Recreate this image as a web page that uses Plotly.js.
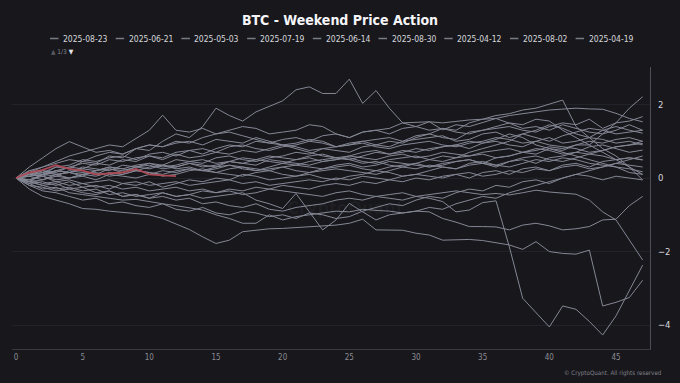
<!DOCTYPE html>
<html>
<head>
<meta charset="utf-8">
<script src="https://cdn.plot.ly/plotly-3.0.1.min.js"></script>
<style>html,body{margin:0;padding:0;background:#17171c;}#chart{width:680px;height:383px;}</style>
</head>
<body>
<div id="chart"></div>
<script>
// hours since weekend start
const hours = [0,1,2,3,4,5,6,7,8,9,10,11,12,13,14,15,16,17,18,19,20,21,22,23,24,25,26,27,28,29,30,31,32,33,34,35,36,37,38,39,40,41,42,43,44,45,46,47];

const legendDates = ["2025-08-23","2025-06-21","2025-05-03","2025-07-19","2025-06-14","2025-08-30","2025-04-12","2025-08-02","2025-04-19"];

const s_0823 = [0,0.15,0.1,0.3,0.25,0.45,0.4,0.6,0.55,0.8,0.75,1.0,1.2,1.1,1.4,1.9,1.7,1.55,1.8,1.95,2.1,2.4,2.48,2.3,2.3,2.69,2.03,2.38,1.9,1.5,1.52,1.53,1.31,1.45,1.4,1.5,1.62,1.49,1.35,1.4,1.3,1.45,1.35,1.25,1.2,1.3,1.45,1.3];
const s_0621 = [0,-0.1,0.1,0.2,0.15,0.3,0.25,0.2,0.35,0.3,0.4,0.35,0.5,0.45,0.4,0.55,0.6,0.5,0.45,0.55,0.6,0.7,0.65,0.8,0.75,0.7,0.85,0.9,1.0,0.95,1.1,1.2,1.35,1.3,1.5,1.6,1.7,1.75,1.85,1.9,2.0,2.12,1.4,1.1,0.8,0.6,0.3,-0.05];
const s_0503 = [0,0.2,0.3,0.45,0.6,0.7,0.8,0.9,0.85,1.08,1.3,1.71,1.3,1.25,1.35,1.2,1.3,1.4,1.35,1.2,1.25,1.3,1.45,1.4,1.2,1.1,1.25,1.3,1.35,1.5,1.4,1.3,1.35,1.25,1.2,1.3,1.35,1.4,1.3,1.25,1.4,1.5,1.45,1.6,1.35,1.5,1.55,1.67];
const s_0719 = [0,0.3,0.55,0.8,0.99,0.84,0.7,0.75,0.65,0.8,0.9,0.85,0.95,1.0,0.9,1.05,1.0,0.95,1.1,1.0,0.9,0.95,1.05,1.0,0.85,0.9,0.95,0.85,0.8,0.9,0.95,1.0,0.9,0.85,0.95,1.0,1.1,1.05,0.95,1.0,0.9,0.85,0.8,0.7,0.75,0.85,0.9,0.94];
const s_0614 = [0,0.1,0.05,0.2,0.3,0.25,0.4,0.35,0.5,0.45,0.6,0.55,0.7,0.75,0.65,0.8,0.9,0.85,1.0,0.95,1.05,1.1,1.0,1.15,1.2,1.1,1.25,1.3,1.2,1.35,1.4,1.53,1.5,1.55,1.58,1.6,1.62,1.7,1.76,1.8,1.85,1.88,1.9,1.88,1.87,1.76,1.62,1.53];
const s_0830 = [0,-0.05,0.1,0.05,0.2,0.15,0.1,0.25,0.2,0.3,0.25,0.35,0.3,0.4,0.3,0.35,0.45,0.4,0.5,0.45,0.4,0.5,0.55,0.45,0.5,0.6,0.55,0.5,0.6,0.65,0.55,0.6,0.7,0.65,0.6,0.7,0.75,0.8,0.7,0.75,0.85,0.8,0.9,0.9,1.2,1.5,1.9,2.21];
const s_0412 = [0,0.1,0.2,0.15,0.3,0.4,0.35,0.5,0.45,0.55,0.6,0.5,0.65,0.55,0.6,0.7,0.65,0.75,0.7,0.8,0.9,0.85,0.75,0.8,0.85,0.95,1.0,0.9,0.85,1.0,1.05,1.1,1.15,1.0,1.05,1.2,1.25,1.1,1.2,1.3,1.45,1.35,1.2,1.1,1.3,1.4,1.3,1.22];
const s_0802 = [0,0.05,-0.05,0.1,0.15,0.05,0.2,0.25,0.15,0.3,0.35,0.25,0.3,0.4,0.35,0.3,0.45,0.4,0.35,0.5,0.45,0.4,0.35,0.45,0.5,0.55,0.45,0.4,0.5,0.55,0.6,0.5,0.45,0.55,0.6,0.65,0.55,0.6,0.7,0.8,0.75,0.65,0.7,0.85,0.9,0.8,0.7,0.76];
const s_0419 = [0,-0.1,-0.05,0.05,0.0,0.1,0.05,0.15,0.1,0.2,0.15,0.1,0.2,0.25,0.2,0.15,0.25,0.3,0.25,0.2,0.3,0.35,0.3,0.25,0.35,0.4,0.3,0.35,0.45,0.4,0.35,0.3,0.4,0.45,0.5,0.4,0.35,0.45,0.55,0.6,0.5,0.45,0.55,0.65,0.6,0.5,0.55,0.49];
const s_0405 = [0,0.1,0.05,-0.05,0.0,0.1,0.15,0.05,0.1,0.2,0.15,0.05,0.1,0.2,0.25,0.15,0.1,0.05,0.15,0.2,0.1,0.05,0.15,0.2,0.25,0.2,0.15,0.1,0.2,0.3,0.25,0.35,0.3,0.25,0.4,0.45,0.35,0.3,0.4,0.5,0.45,0.55,0.5,0.4,0.35,0.3,0.25,0.17];
const s_0426 = [0,-0.15,-0.1,-0.2,-0.1,-0.25,-0.2,-0.3,-0.15,-0.2,-0.1,-0.25,-0.15,-0.05,-0.1,0.0,-0.05,0.1,0.05,-0.05,0.0,0.05,0.1,0.0,-0.05,0.05,0.1,0.2,0.15,0.05,0.1,0.2,0.3,0.25,0.35,0.4,0.3,0.45,0.5,0.4,0.55,0.6,0.7,0.65,0.75,0.85,0.9,1.0];
const s_0510 = [0,0.2,0.15,0.3,0.35,0.5,0.45,0.55,0.6,0.5,0.65,0.7,0.6,0.75,0.8,0.7,0.85,0.9,0.8,0.75,0.85,0.9,1.0,0.95,0.85,0.9,1.0,1.05,1.1,1.0,1.15,1.2,1.1,1.05,1.25,1.3,1.4,1.5,1.45,1.6,1.55,1.3,1.1,0.9,0.7,0.5,0.3,0.1];
const s_0517 = [0,0.05,0.15,0.1,0.0,0.05,-0.05,0.1,0.05,0.0,0.1,0.2,0.15,0.25,0.2,0.3,0.35,0.25,0.2,0.3,0.4,0.35,0.45,0.5,0.55,0.5,0.6,0.7,0.65,0.75,0.7,0.8,0.85,0.9,0.8,0.95,1.0,0.9,0.85,1.0,1.1,0.95,1.0,1.1,1.05,0.95,1.0,0.9];
const s_0524 = [0,-0.2,-0.25,-0.35,-0.3,-0.4,-0.45,-0.35,-0.5,-0.45,-0.55,-0.4,-0.5,-0.45,-0.35,-0.4,-0.3,-0.35,-0.25,-0.3,-0.2,-0.25,-0.3,-0.2,-0.15,-0.2,-0.1,-0.15,-0.05,-0.1,0.0,-0.05,0.05,0.1,0.0,0.15,0.2,0.1,0.25,0.3,0.2,0.35,0.4,0.3,0.45,0.5,0.55,0.5];
const s_0531 = [0,-0.1,-0.2,-0.3,-0.25,-0.35,-0.3,-0.45,-0.4,-0.5,-0.45,-0.4,-0.5,-0.45,-0.55,-0.5,-0.45,-0.4,-0.6,-0.7,-0.83,-0.42,-0.92,-1.41,-1.14,-0.69,-0.92,-1.14,-1.0,-0.95,-0.9,-0.8,-0.85,-0.7,-0.6,-0.5,-0.55,-0.4,-0.3,-0.2,-0.1,0.0,0.1,0.2,0.3,0.4,0.5,0.6];
const s_0607 = [0,-0.1,-0.2,-0.15,-0.3,-0.25,-0.4,-0.35,-0.5,-0.45,-0.55,-0.5,-0.6,-0.55,-0.7,-0.65,-0.75,-0.8,-0.7,-0.85,-0.9,-0.8,-0.75,-0.7,-0.6,-0.55,-0.6,-0.5,-0.55,-0.6,-0.5,-0.55,-0.64,-0.92,-0.87,-0.67,-0.62,-1.87,-3.27,-3.66,-4.05,-3.48,-3.57,-3.9,-4.27,-3.75,-3.05,-2.37];
const s_0628 = [0,-0.3,-0.5,-0.6,-0.7,-0.83,-0.85,-0.9,-0.93,-0.96,-1.0,-1.1,-1.25,-1.4,-1.6,-1.78,-1.69,-1.46,-1.42,-1.38,-1.37,-1.35,-1.32,-1.3,-1.28,-1.23,-1.12,-1.41,-1.41,-1.42,-1.5,-1.55,-1.69,-1.68,-1.67,-1.7,-1.76,-1.82,-1.94,-1.73,-2.0,-2.05,-2.07,-1.96,-3.48,-3.38,-3.25,-2.78];
const s_0705 = [0,-0.15,-0.3,-0.25,-0.4,-0.45,-0.5,-0.55,-0.6,-0.58,-0.65,-0.7,-0.75,-0.8,-0.87,-1.0,-1.1,-1.23,-1.23,-1.0,-1.14,-1.05,-1.0,-0.95,-0.9,-0.92,-0.85,-0.88,-0.9,-0.95,-0.9,-0.92,-1.1,-1.2,-1.32,-1.32,-1.33,-1.41,-1.28,-1.23,-1.3,-1.41,-1.38,-1.32,-1.14,-1.12,-0.75,-0.5];
const s_0712 = [0,-0.05,-0.15,-0.1,-0.2,-0.15,-0.25,-0.2,-0.3,-0.25,-0.35,-0.3,-0.25,-0.35,-0.3,-0.4,-0.35,-0.45,-0.4,-0.3,-0.35,-0.4,-0.45,-0.5,-0.4,-0.35,-0.45,-0.5,-0.45,-0.4,-0.5,-0.45,-0.4,-0.35,-0.4,-0.45,-0.42,-0.46,-0.4,-0.33,-0.38,-0.42,-0.44,-0.6,-0.92,-1.14,-1.7,-2.23];
const s_0726 = [0,-0.2,-0.35,-0.4,-0.5,-0.6,-0.55,-0.7,-0.65,-0.75,-0.8,-0.7,-0.85,-0.9,-0.8,-0.95,-1.0,-0.9,-0.95,-1.05,-1.0,-1.1,-0.95,-1.0,-1.1,-1.05,-0.9,-0.8,-0.7,-0.75,-0.6,-0.5,-0.55,-0.4,-0.3,-0.35,-0.2,-0.25,-0.1,-0.05,-0.15,0.0,0.1,0.05,-0.05,0.05,0.0,-0.05];
const s_0809 = [0,0.1,0.2,0.1,0.15,0.25,0.2,0.3,0.25,0.2,0.3,0.35,0.25,0.3,0.2,0.25,0.35,0.3,0.2,0.25,0.3,0.2,0.15,0.25,0.3,0.35,0.25,0.2,0.3,0.35,0.4,0.3,0.35,0.45,0.5,0.4,0.55,0.6,0.7,0.65,0.8,0.75,0.9,1.0,0.95,1.05,1.1,1.0];
const s_0816 = [0,-0.05,0.05,-0.1,-0.05,-0.15,-0.1,-0.05,-0.15,-0.1,-0.2,-0.15,-0.1,-0.2,-0.15,-0.1,-0.05,-0.15,-0.1,-0.2,-0.15,-0.1,-0.05,-0.1,0.0,-0.05,0.05,0.0,-0.05,0.05,0.1,0.05,0.0,0.1,0.15,0.05,0.1,0.2,0.15,0.25,0.2,0.3,0.35,0.25,0.3,0.4,0.35,0.3];
const s_0329 = [0,0.15,0.3,0.4,0.5,0.45,0.6,0.7,0.65,0.8,0.9,0.85,1.0,0.95,1.1,1.2,1.25,1.15,1.05,0.95,0.9,0.8,0.7,0.6,0.55,0.5,0.4,0.45,0.35,0.3,0.4,0.5,0.6,0.55,0.7,0.8,0.9,1.0,1.2,1.1,1.0,1.15,1.25,1.35,1.3,1.2,1.25,1.3];
const s_0322 = [0,0.05,0.1,0.2,0.15,0.1,0.2,0.3,0.25,0.35,0.4,0.3,0.35,0.45,0.5,0.4,0.45,0.55,0.5,0.6,0.55,0.5,0.6,0.65,0.55,0.6,0.7,0.75,0.65,0.7,0.8,0.75,0.85,0.9,1.0,0.95,1.05,1.2,1.1,0.9,0.8,0.7,0.6,0.5,0.4,0.3,0.15,0.1];
// current weekend (in progress)
const s_0906 = [0,0.15,0.22,0.35,0.25,0.2,0.1,0.12,0.15,0.25,0.1,0.07,0.05];

const pastSeries = [
  ["2025-08-23", s_0823], ["2025-06-21", s_0621], ["2025-05-03", s_0503],
  ["2025-07-19", s_0719], ["2025-06-14", s_0614], ["2025-08-30", s_0830],
  ["2025-04-12", s_0412], ["2025-08-02", s_0802], ["2025-04-19", s_0419],
  ["2025-04-05", s_0405], ["2025-04-26", s_0426], ["2025-05-10", s_0510],
  ["2025-05-17", s_0517], ["2025-05-24", s_0524], ["2025-05-31", s_0531],
  ["2025-06-07", s_0607], ["2025-06-28", s_0628], ["2025-07-05", s_0705],
  ["2025-07-12", s_0712], ["2025-07-26", s_0726], ["2025-08-09", s_0809],
  ["2025-08-16", s_0816], ["2025-03-29", s_0329], ["2025-03-22", s_0322]
];
const currentName = "2025-09-06";

const FONT = "'DejaVu Sans Condensed', 'Liberation Sans', sans-serif";
const GRAY = "rgb(132,135,148)";
const RED = "rgb(172,74,86)";
const BG = "rgb(23,23,28)";

const W = 680, H = 383;
const M = {l: 12, r: 30, t: 67, b: 34, pad: 0};
const PW = W - M.l - M.r, PH = H - M.t - M.b;
const px2x = px => (px - M.l) / PW;
const py2y = py => (H - M.b - py) / PH;

const traces = pastSeries.map(([name, ys]) => ({
  type: "scatter", mode: "lines", name: name,
  x: hours.slice(0, ys.length), y: ys,
  line: {color: GRAY, width: 1},
  showlegend: false
}));
traces.push({
  type: "scatter", mode: "lines", name: currentName,
  x: hours.slice(0, s_0906.length), y: s_0906,
  line: {color: RED, width: 1.8}, showlegend: false
});

// Custom legend row (first page of 9 entries)
const shapes = [];
const annotations = [];
const legStart = 50, legStep = 65.7, legY = 38.5;
legendDates.forEach((d, i) => {
  const x0 = legStart + i * legStep;
  shapes.push({type: "line", xref: "paper", yref: "paper",
    x0: px2x(x0), x1: px2x(x0 + 8.5), y0: py2y(legY), y1: py2y(legY),
    line: {color: "rgb(120,122,132)", width: 1.5}});
  annotations.push({xref: "paper", yref: "paper", x: px2x(x0 + 11), y: py2y(legY),
    xanchor: "left", yanchor: "middle", showarrow: false, text: d,
    font: {family: FONT, size: 8.5, color: "rgb(215,215,220)"}});
});
annotations.push({xref: "paper", yref: "paper", x: px2x(49), y: py2y(52),
  xanchor: "left", yanchor: "middle", showarrow: false,
  text: "<span style='color:rgb(90,90,98)'>▲</span> 1/3 <span style='color:rgb(230,230,235)'>▼</span>",
  font: {family: FONT, size: 6.5, color: "rgb(140,140,148)"}});
annotations.push({xref: "paper", yref: "paper", x: px2x(664), y: py2y(372.5),
  xanchor: "right", yanchor: "middle", showarrow: false,
  text: "© CryptoQuant. All rights reserved",
  font: {family: FONT, size: 6.2, color: "rgb(130,130,138)"}});
annotations.push({xref: "paper", yref: "paper", x: px2x(345), y: py2y(207),
  xanchor: "center", yanchor: "middle", showarrow: false,
  text: "<b>CryptoQuant</b>",
  font: {family: FONT, size: 18, color: "rgba(255,255,255,0.035)"}});

const layout = {
  width: W, height: H,
  margin: M,
  paper_bgcolor: BG, plot_bgcolor: BG,
  font: {family: FONT, color: "rgb(200,200,205)"},
  title: {text: "<b>BTC - Weekend Price Action</b>", x: 0.5, xanchor: "center",
    y: 1 - 20 / H, yanchor: "middle", yref: "container",
    font: {family: FONT, size: 14, color: "rgb(245,245,248)"}},
  showlegend: false,
  xaxis: {range: [-0.3, 47.55], dtick: 5, tick0: 0, showgrid: false, zeroline: false,
    showline: true, linecolor: "rgb(58,58,64)", linewidth: 1, ticks: "",
    tickfont: {family: FONT, size: 8, color: "rgb(140,140,148)"}},
  yaxis: {range: [-4.65, 3.02], dtick: 2, tick0: 0, side: "right", showgrid: true,
    gridcolor: "rgb(34,34,40)", gridwidth: 1, zeroline: false,
    showline: true, linecolor: "rgb(78,78,86)", linewidth: 1, ticks: "",
    ticklabelstandoff: 5,
    tickfont: {family: FONT, size: 9.5, color: "rgb(215,215,220)"}},
  shapes: shapes,
  annotations: annotations,
  hovermode: false
};

Plotly.newPlot("chart", traces, layout, {displayModeBar: false, staticPlot: true});
</script>
</body>
</html>
